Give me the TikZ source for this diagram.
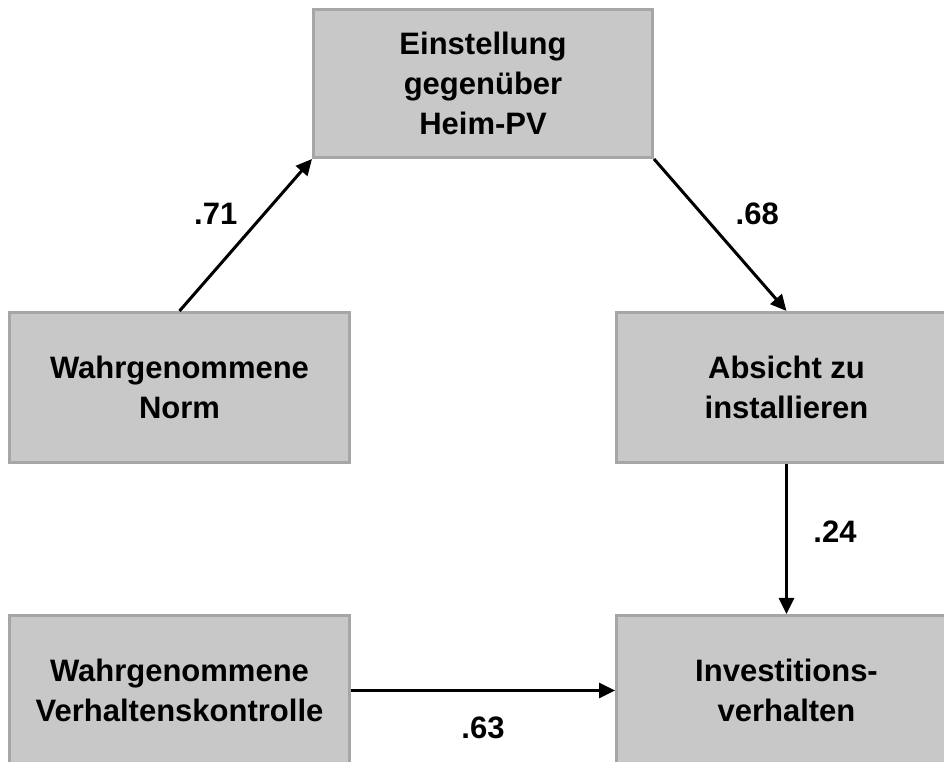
\documentclass[tikz,border=0pt]{standalone}
\usepackage{fontspec}
\setmainfont{Liberation Sans}
\usetikzlibrary{positioning, arrows.meta}
\definecolor{boxGray}{RGB}{200,200,200}
\definecolor{edgeGray}{RGB}{166,166,166}

\begin{document}
\begin{tikzpicture}[
    x=1pt, y=1pt,
    font=\fontsize{31}{40}\selectfont\bfseries,
    box/.style={draw=edgeGray, line width=3pt, fill=boxGray, align=center,
                minimum width=340pt, minimum height=150pt, inner sep=2pt},
    arr/.style={-{Triangle[length=16pt, width=15pt]}, line width=3pt, black},
    lbl/.style={inner sep=0pt},
  ]
    \clip (0,0) rectangle (944,762);
    \node[box] (norm) at (179.5,374.5) {Wahrgenommene\\Norm};
    \node[box, right=264pt of norm] (intent) {Absicht zu\\installieren};
    \node[box, below=150pt of norm] (pbc) {Wahrgenommene\\Verhaltenskontrolle};
    \node[box, below=150pt of intent] (behav) {Investitions-\\verhalten};
    \node[box, minimum width=339pt, minimum height=148pt] (att) at (483,678.5) {Einstellung\\gegenüber\\Heim-PV};
    \draw[arr] (norm.north) -- node[lbl, xshift=-30pt, yshift=21pt] (w71) {.71} (att.south west);
    \draw[arr] (att.south east) -- node[lbl, xshift=37pt, yshift=21pt] (w68) {.68} (intent.north);
    \draw[arr] (intent.south) -- node[lbl, xshift=48.5pt, yshift=7.5pt] (w24) {.24} (behav.north);
    \draw[arr] (pbc.east) -- node[lbl, yshift=-37.5pt] (w63) {.63} (behav.west);
  \end{tikzpicture}
\end{document}
